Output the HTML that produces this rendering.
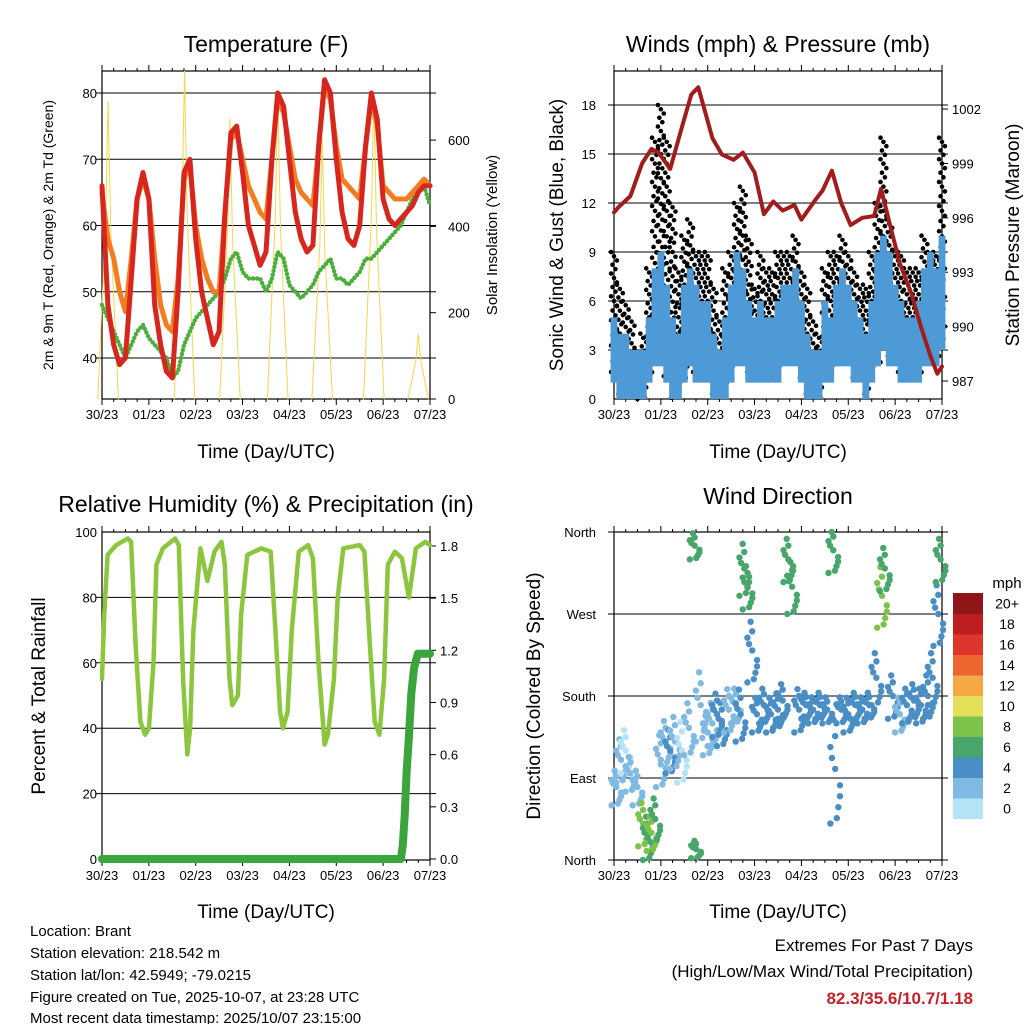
<!DOCTYPE html>
<html><head><meta charset="utf-8"><style>
html,body{margin:0;padding:0;background:#fff;width:1024px;height:1024px;overflow:hidden}
svg{display:block;font-family:"Liberation Sans",sans-serif}
</style></head><body>
<svg id="c" width="1024" height="1024" xmlns="http://www.w3.org/2000/svg">
<text x="266" y="52" font-size="23" text-anchor="middle">Temperature (F)</text>
<text x="778" y="52" font-size="23" text-anchor="middle">Winds (mph) &amp; Pressure (mb)</text>
<text x="266" y="512" font-size="23" text-anchor="middle">Relative Humidity (%) &amp; Precipitation (in)</text>
<text x="778" y="504" font-size="23" text-anchor="middle">Wind Direction</text>
<text x="266" y="458" font-size="19" text-anchor="middle">Time (Day/UTC)</text>
<text x="778" y="458" font-size="19" text-anchor="middle">Time (Day/UTC)</text>
<text x="266" y="918" font-size="19" text-anchor="middle">Time (Day/UTC)</text>
<text x="778" y="918" font-size="19" text-anchor="middle">Time (Day/UTC)</text>
<text transform="translate(53,235) rotate(-90)" font-size="14" text-anchor="middle">2m &amp; 9m T (Red, Orange) &amp; 2m Td (Green)</text>
<text transform="translate(497,235) rotate(-90)" font-size="15" text-anchor="middle">Solar Insolation (Yellow)</text>
<text transform="translate(563,235) rotate(-90)" font-size="19" text-anchor="middle">Sonic Wind &amp; Gust (Blue, Black)</text>
<text transform="translate(1019,235) rotate(-90)" font-size="19" text-anchor="middle">Station Pressure (Maroon)</text>
<text transform="translate(45,696) rotate(-90)" font-size="19" text-anchor="middle">Percent &amp; Total Rainfall</text>
<text transform="translate(540,696) rotate(-90)" font-size="19" text-anchor="middle">Direction (Colored By Speed)</text>
<g font-size="15">
<text x="30" y="936">Location: Brant</text>
<text x="30" y="958">Station elevation: 218.542 m</text>
<text x="30" y="980">Station lat/lon: 42.5949; -79.0215</text>
<text x="30" y="1002">Figure created on Tue, 2025-10-07, at 23:28 UTC</text>
<text x="30" y="1023">Most recent data timestamp: 2025/10/07 23:15:00</text>
</g>
<g font-size="17" text-anchor="end">
<text x="973" y="951">Extremes For Past 7 Days</text>
<text x="973" y="977">(High/Low/Max Wind/Total Precipitation)</text>
<text x="973" y="1004" fill="#c8202a" font-weight="bold">82.3/35.6/10.7/1.18</text>
</g>
<text x="1007" y="588" font-size="15" text-anchor="middle">mph</text>
</svg>
<script>
// ---- data ----
const xTickLabels = ["30/23","01/23","02/23","03/23","04/23","05/23","06/23","07/23"];
const temp2m = [66,48,42,39,40,52,64,68, 64,48,42,38,37,50,68,70, 58,50,46,42,44,62,74,75, 68,60,57,54,56,70,80,78, 70,62,58,56,57,72,82,80, 70,62,58,57,60,72,80,76, 64,61,60,61,62,63,65,66,66];
const temp9m = [65,58,55,50,47,55,64,67, 64,55,48,45,44,52,67,69, 60,55,52,50,50,62,73,74, 70,66,64,62,61,70,79,77, 72,67,65,64,63,72,81,79, 72,67,66,65,64,72,79,75, 66,65,64,64,64,65,66,67,66];
const dew2m = [48,46,44,42,40,42,44,45, 43,42,41,40,37,38,42,44, 46,47,48,49,50,52,55,56, 53,52,52,52,50,52,56,55, 51,50,49,50,51,53,54,55, 52,52,51,52,53,55,55,56, 57,58,59,60,62,64,65,66,63];
const solarPeakDay = [0.13,1.76,2.73,3.75,4.7,5.8,6.75];
const solarPeakVal = [690,760,650,715,600,705,150];
const tempTicks = [40,50,60,70,80];
const solarTicks = [0,200,400,600];
const windMin = [1,0,0,0,0,0,1,2, 2,1,0,0,1,2,1,1, 1,0,0,0,1,2,2,1, 1,1,1,1,1,2,2,2, 1,0,0,0,1,1,2,2, 2,1,1,0,1,2,3,2, 2,1,1,1,1,2,2,2,3];
const windMax = [5,4,4,3,3,3,5,8, 9,7,5,4,7,8,7,6, 6,4,3,5,7,9,8,6, 5,6,5,5,6,7,7,8, 6,4,3,3,6,5,7,8, 7,6,5,4,6,9,10,9, 7,6,5,5,6,8,9,8,10];
const gustMax = [9,7,6,5,3,4,8,16, 18,16,12,8,10,11,9,9, 9,7,5,8,9,12,13,10, 7,9,8,8,9,9,9,10, 8,7,5,4,8,9,9,10, 9,8,7,7,9,12,16,11, 9,9,8,8,8,10,9,9,16];
const pressDay = [0,0.1,0.35,0.6,0.8,0.95,1.2,1.45,1.65,1.8,2.1,2.3,2.55,2.75,3.0,3.2,3.4,3.6,3.85,4.0,4.3,4.45,4.65,4.85,5.05,5.3,5.55,5.7,5.9,6.1,6.35,6.55,6.75,6.9,7.0];
const pressVal = [996.3,996.6,997.2,999,999.8,999.6,998.7,1001,1002.8,1003.2,1000.4,999.5,999.2,999.6,998.5,996.2,996.9,996.4,996.7,995.9,997,997.5,998.6,996.8,995.6,996,996.1,997.6,995.5,993.5,991.8,990,988.4,987.4,987.8];
const windTicks = [0,3,6,9,12,15,18];
const pressTicks = [987,990,993,996,999,1002];
const rhDay = [0,0.05,0.12,0.3,0.55,0.62,0.72,0.82,0.92,1.0,1.1,1.16,1.3,1.56,1.64,1.73,1.82,1.88,1.95,2.1,2.25,2.4,2.55,2.62,2.72,2.78,2.9,2.97,3.1,3.4,3.6,3.7,3.8,3.86,3.96,4.05,4.2,4.4,4.5,4.62,4.75,4.82,4.95,5.03,5.15,5.5,5.6,5.72,5.82,5.92,6.02,6.1,6.25,6.4,6.55,6.7,6.9,7.0];
const rhVal = [55,75,93,96,98,97,65,42,38,40,60,90,95,98,96,55,32,40,70,95,85,94,97,90,55,47,50,75,93,95,94,70,45,40,45,70,94,96,92,60,35,38,55,80,95,96,94,65,42,38,55,90,94,92,80,95,97,96];
const rainDay = [0,6.38,6.42,6.46,6.5,6.55,6.6,6.66,6.74,7.0];
const rainVal = [0,0,0.08,0.25,0.5,0.7,0.95,1.1,1.18,1.18];
const rhTicks = [0,20,40,60,80,100];
const rainTicks = ["0.0","0.3","0.6","0.9","1.2","1.5","1.8"];
const dirDay =    [0.05,0.15,0.25,0.35,0.5,0.62,0.72,0.8,0.88,1.0,1.1,1.2,1.3,1.45,1.6,1.72,1.75,1.85,2.0,2.1,2.2,2.3,2.45,2.6,2.7,2.78,2.85,2.95,3.05,3.2,3.35,3.5,3.6,3.72,3.8,3.95,4.1,4.25,4.4,4.55,4.68,4.72,4.85,5.0,5.15,5.3,5.45,5.6,5.72,5.78,5.95,6.1,6.25,6.4,6.55,6.7,6.8,6.92,6.97];
const dirVal =    [80,110,120,95,80,40,25,30,45,110,130,120,130,120,145,345,12,170,140,150,160,150,165,170,160,320,300,230,160,170,160,165,175,330,300,165,170,165,170,165,340,100,165,160,170,165,170,200,290,320,180,160,170,175,170,180,200,270,330];
const dirSpread = [20,25,25,20,20,25,25,20,25,30,25,25,30,35,30,15,10,40,25,25,25,25,25,20,30,30,25,35,20,20,20,20,20,25,30,25,15,15,15,15,25,60,15,20,15,15,15,30,35,25,25,20,20,20,20,25,30,35,25];
const dirSpeed =  [1,1,0,1,1,7,6,7,5,2,2,3,1,0,1,6,5,1,2,2,3,3,2,2,3,6,5,3,4,3,3,4,4,6,5,3,4,4,4,4,6,4,3,3,4,4,4,3,7,6,3,2,3,4,4,3,4,4,6];
const dirTicks = ["North","East","South","West","North"];
const cbLabels = ["0","2","4","6","8","10","12","14","16","18","20+"];
const cbColors = ["#b5e3f7","#80bae3","#4a8ec6","#48a56c","#7dc24a","#e5e05a","#f5a945","#ee6530","#de352c","#be1d22","#8e1619"];

// ---- helpers ----
const NS = "http://www.w3.org/2000/svg";
const svg = document.getElementById("c");
function mk(tag, attrs, parent) {
  const e = document.createElementNS(NS, tag);
  for (const k in attrs) e.setAttribute(k, attrs[k]);
  (parent || svg).appendChild(e);
  return e;
}
function txt(x, y, s, anchor, size, parent) {
  const t = mk("text", {x: x, y: y, "font-size": size || 13, "text-anchor": anchor || "middle"}, parent);
  t.textContent = s;
  return t;
}
const P1 = {x0:102,x1:430,y0:71,y1:399}, P2 = {x0:614,x1:942,y0:71,y1:399};
const P3 = {x0:102,x1:430,y0:532,y1:860}, P4 = {x0:614,x1:942,y0:532,y1:860};
function xs(P, d) { return P.x0 + d * (P.x1 - P.x0) / 7; }
const yT = v => 358 - (v - 40) * 6.625;
const yS = v => 399 - v * 0.4315;
const yW = v => 399 - v * 16.33;
const yP = v => 381 - (v - 987) * 18.13;
const yR = v => 859 - v * 3.27;
const yRain = v => 859 - v * 173.9;
const yD = v => 860 - v * 0.9111;

function frame(P, name) {
  const g = mk("g", {});
  
  
  mk("rect", {x:P.x0, y:P.y0, width:P.x1-P.x0, height:P.y1-P.y0, fill:"none", stroke:"#000", "stroke-width":1.2}, g);
  for (let i = 0; i <= 7; i++) {
    const x = xs(P, i);
    mk("line", {x1:x, y1:P.y1, x2:x, y2:P.y1+6, stroke:"#000"}, g);
    mk("line", {x1:x, y1:P.y0, x2:x, y2:P.y0-6, stroke:"#000"}, g);
    const lbl = txt(x, P.y1 + 20, xTickLabels[i], "middle", 13, g);
    
    
    if (i < 7) for (let m = 1; m < 4; m++) {
      const xm = xs(P, i + m / 4);
      mk("line", {x1:xm, y1:P.y1, x2:xm, y2:P.y1+3, stroke:"#000"}, g);
      mk("line", {x1:xm, y1:P.y0, x2:xm, y2:P.y0-3, stroke:"#000"}, g);
    }
  }
  return g;
}
function grid(P, y, g) { mk("line", {x1:P.x0-6, y1:y, x2:P.x1+6, y2:y, stroke:"#000", "stroke-width":1}, g); }
function poly(pts, attrs, name) {
  const e = mk("polyline", Object.assign({points: pts.map(p => p[0].toFixed(1)+","+p[1].toFixed(1)).join(" "), fill:"none", "stroke-linejoin":"round", "stroke-linecap":"round"}, attrs));
  
  
  return e;
}

// ---- Panel 1 ----
const g1 = frame(P1, "temperature-axes");
tempTicks.forEach(v => { grid(P1, yT(v), g1); txt(97, yT(v)+5, String(v), "end", 13, g1); });
solarTicks.forEach(v => { mk("line",{x1:P1.x1,y1:yS(v),x2:P1.x1+6,y2:yS(v),stroke:"#000"},g1); txt(448, yS(v)+5, String(v), "start", 13, g1); });
solarPeakDay.forEach((d, i) => {
  const pts = [[xs(P1,d-0.22), yS(0)], [xs(P1,d-0.05), yS(solarPeakVal[i]*0.6)], [xs(P1,d), yS(solarPeakVal[i])], [xs(P1,d+0.06), yS(solarPeakVal[i]*0.55)], [xs(P1,d+0.22), yS(0)]];
  poly(pts, {stroke:"#f7d54a", "stroke-width":1}, "solar-line");
});
poly(dew2m.map((v,i)=>[xs(P1,i/8), yT(v)]), {stroke:"#4caf3c","stroke-width":4.5,"stroke-dasharray":"0 4"}, "dewpoint-line");
poly(temp9m.map((v,i)=>[xs(P1,i/8), yT(v)]), {stroke:"#f47b20","stroke-width":5}, "temp-9m-line");
poly(temp2m.map((v,i)=>[xs(P1,i/8), yT(v)]), {stroke:"#d7261e","stroke-width":5}, "temp-2m-line");

// ---- Panel 2 ----
const g2 = frame(P2, "winds-axes");
windTicks.forEach(v => { if (v>0) grid(P2, yW(v), g2); txt(596, yW(v)+5, String(v), "end", 13, g2); });
pressTicks.forEach(v => { mk("line",{x1:P2.x1,y1:yP(v),x2:P2.x1+6,y2:yP(v),stroke:"#000"},g2); txt(952, yP(v)+5, String(v), "start", 13, g2); });
const bw = (P2.x1-P2.x0)/56;
gustMax.forEach((gv, i) => {
  const x = xs(P2, i/8);
  const yb = yW(Math.max(0, windMin[i]));
  for (let y = yW(gv), k = 0; y < yb; y += 4.2 + k*0.05, k++) {
    const c = mk("circle", {cx: x + ((k*7)%5 - 2)*bw/4, cy: y, r: 2.3, fill: "#000"});
    
    
  }
});
windMax.forEach((v, i) => {
  const x = xs(P2, i/8);
  const r = mk("rect", {x: x - bw/2 - 0.5, y: yW(v), width: bw + 1, height: yW(windMin[i]) - yW(v), fill: "#4d9ad6"});
  
  
});
poly(pressDay.map((d,i)=>[xs(P2,d), yP(pressVal[i])]), {stroke:"#a11c1c","stroke-width":4}, "pressure-line");

// ---- Panel 3 ----
const g3 = frame(P3, "humidity-axes");
rhTicks.forEach(v => { if (v>0 && v<100) grid(P3, yR(v), g3); txt(97, yR(v)+5, String(v), "end", 13, g3); });
rainTicks.forEach(s => { const y = yRain(parseFloat(s)); mk("line",{x1:P3.x1,y1:y,x2:P3.x1+6,y2:y,stroke:"#000"},g3); txt(440, y+5, s, "start", 13, g3); });
poly(rhDay.map((d,i)=>[xs(P3,d), yR(rhVal[i])]), {stroke:"#8cc63f","stroke-width":4.5}, "rh-line");
poly(rainDay.map((d,i)=>[xs(P3,d), yRain(rainVal[i])]), {stroke:"#3aa53a","stroke-width":8}, "rainfall-line");

// ---- Panel 4 ----
const g4 = frame(P4, "direction-axes");
dirTicks.forEach((s, i) => { const y = yD(i*90); grid(P4, y, g4); txt(596, y+5, s, "end", 13, g4); });
const jitter = [-1, 0.6, -0.3, 0.9, -0.7, 0.2, -0.9, 0.4, 0, -0.5];
dirDay.forEach((d, i) => {
  const col = cbColors[Math.min(10, Math.round(dirSpeed[i]/2))];
  jitter.forEach((j, k) => {
    const x = xs(P4, d) + ((k*3)%7 - 3) * 1.6;
    const dv = Math.max(0, Math.min(360, dirVal[i] + j * dirSpread[i]));
    const c = mk("circle", {cx: x, cy: yD(dv), r: 3.2, fill: col});
    
    
  });
});
const cb = mk("g", {});


const cbTop = 593, cbH = 20.5;
cbLabels.forEach((s, i) => {
  const y = cbTop + (10 - i) * cbH;
  mk("rect", {x:953, y:y, width:30, height:cbH+0.5, fill:cbColors[i]}, cb);
  txt(1007, y + cbH/2 + 5, s, "middle", 14, cb);
});
</script>
</body></html>
